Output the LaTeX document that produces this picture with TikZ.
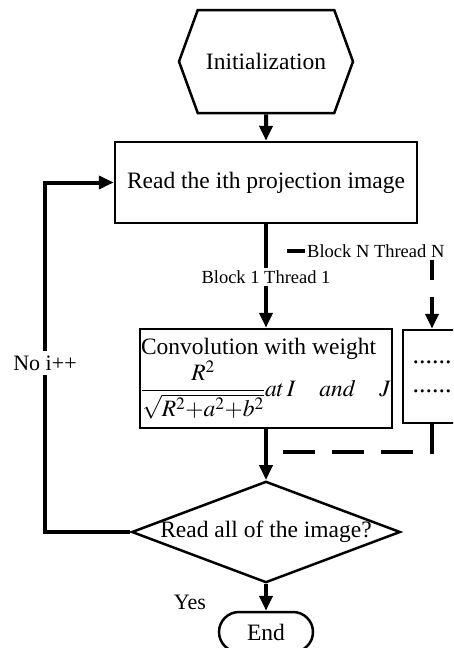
\documentclass[tikz,border=0pt]{standalone}
\usepackage{mathptmx}
\usepackage{fontspec}
\setmainfont{Liberation Serif}
\usetikzlibrary{arrows.meta,shapes.geometric,shapes.symbols,shapes.misc}

\begin{document}
\begin{tikzpicture}
  [x=1pt,y=-1pt,
   box/.style={draw,line width=2.5pt,inner sep=0pt},
   wire/.style={line width=4pt},
   flow/.style={line width=4pt,-{Triangle[length=15pt,width=13pt]}},
   dashline/.style={line width=4pt,dash pattern=on 20pt off 17pt},
   lbl/.style={inner sep=2pt,font=\fontsize{18.5}{20}\selectfont},
   every node/.style={font=\fontsize{23.5}{27}\selectfont}]
  \clip (0,0) rectangle (453,648);
  \node[box,signal,signal to=west and east,signal pointer angle=140,
        minimum width=174pt,minimum height=103pt] (init) at (266,61.5) {Initialization};
  \node[box,minimum width=302pt,minimum height=81pt] (read) at (266,182.5) {Read the ith projection image};
  \node[box,minimum width=252pt,minimum height=99pt,align=left] (conv) at (266,378.5)
    {Convolution with weight\\ $\displaystyle\frac{R^2}{\sqrt{R^2{+}a^2{+}b^2}}at\,I\quad and\quad J$};
  \node[box,minimum width=58pt,minimum height=93pt,align=left,
        font=\fontsize{26}{29}\selectfont] (par) at (432,376.5) {......\\......};
  \node[box,diamond,aspect=2.65,minimum width=265pt,minimum height=100pt] (dec) at (266,532) {Read all of the image?};
  \node[box,rounded rectangle,minimum width=94pt,minimum height=40pt] (fin) at (266,632) {End};

  \node[lbl] (b1) at (266,277) {Block 1 Thread 1};
  \node[lbl,anchor=west] (bN) at (305,251) {Block N Thread N};
  \node[inner sep=4pt,font=\fontsize{22}{26}\selectfont] (no) at (45,363) {No i++};
  \node[font=\fontsize{22}{26}\selectfont] (yes) at (190,602) {Yes};

  \coordinate (forkN) at (287,251);
  \coordinate (joinN) at (283,452);

  \draw[flow] (init) -- (read);
  \draw[wire] (read) -- (b1);
  \draw[flow] (b1) -- (conv);
  \draw[wire] (forkN) -- (bN.west);
  \draw[dashline,-{Triangle[length=15pt,width=13pt]}] (bN.south -| par.north) -- (par.north);
  \draw[wire,dash pattern=on 32pt off 17pt] (joinN) -| (par.south);
  \draw[flow] (conv) -- (dec);
  \draw[flow] (dec) -- (fin);
  \draw[wire] (dec.west) -| (no.south);
  \draw[flow] (no.north) |- (read.west);
\end{tikzpicture}
\end{document}
